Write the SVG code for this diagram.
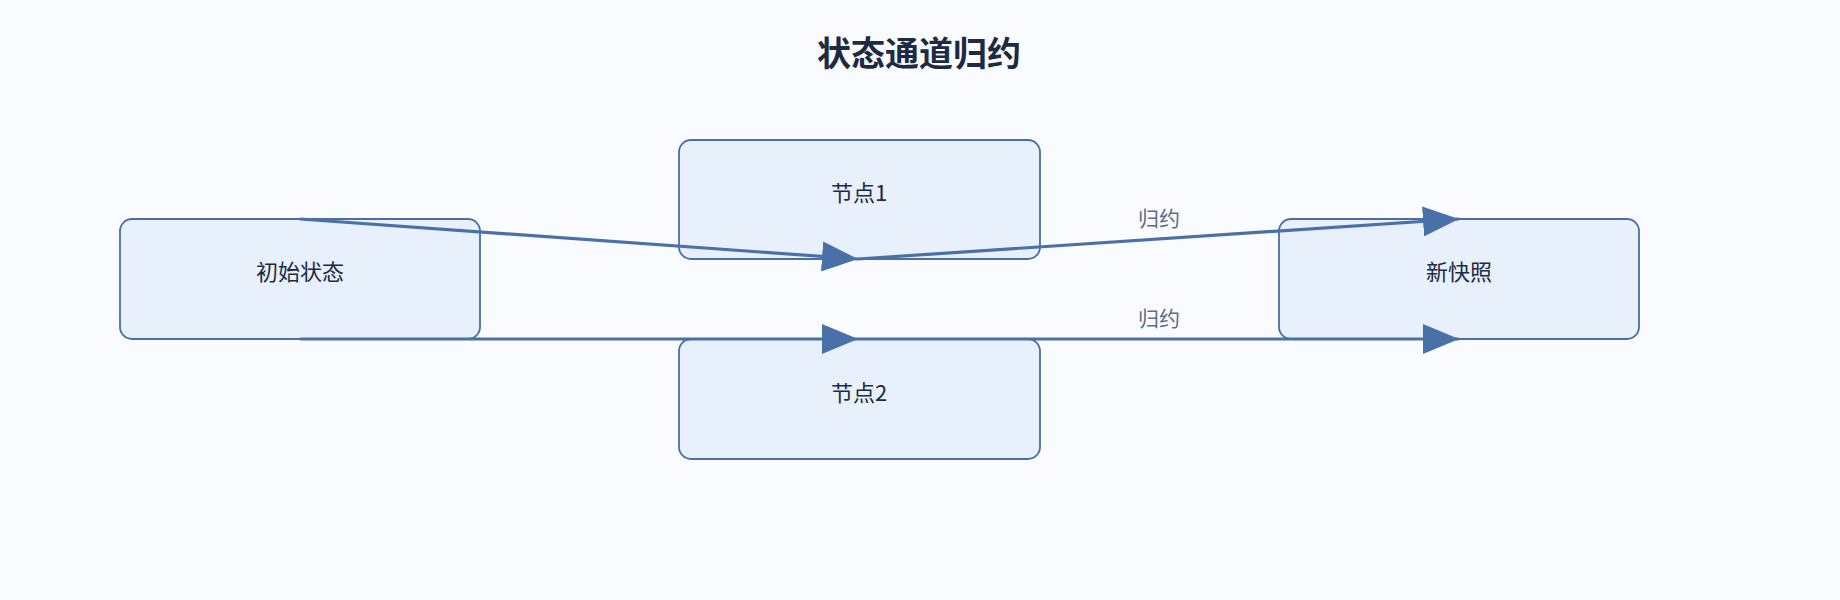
<svg xmlns="http://www.w3.org/2000/svg" width="1840" height="600" viewBox="0 0 1840 600">
<defs>
<style>
.node rect{fill:#e8f0fc;stroke:#4a6ea6;stroke-width:1.8}
.node text{font-family:"Noto Sans CJK SC","Liberation Sans",sans-serif;font-size:22px;fill:#1e2a40;text-anchor:middle;dominant-baseline:central}
.edge{stroke:#4a70a8;stroke-width:3.2;fill:none;marker-end:url(#ah)}
.lbl{font-family:"Noto Sans CJK SC","Liberation Sans",sans-serif;font-size:21px;fill:#5e6b85;text-anchor:middle}
</style>
<marker id="ah" markerUnits="userSpaceOnUse" markerWidth="36" markerHeight="30" viewBox="0 0 12 10" refX="12" refY="5" orient="auto"><path d="M0,0 L12,5 L0,10 Z" fill="#4a70a8"/></marker>
</defs>
<rect width="1840" height="600" fill="#f9fbfe"/>
<text x="919" y="66" font-family="Noto Sans CJK SC,Liberation Sans,sans-serif" font-size="34" font-weight="bold" fill="#1c2a42" text-anchor="middle">状态通道归约</text>
<g id="n-init" class="node"><rect x="120" y="219" width="360" height="120" rx="12"/><text x="300" y="270">初始状态</text></g>
<g id="n-node1" class="node"><rect x="679" y="140" width="361" height="119" rx="12"/><text x="859" y="191">节点1</text></g>
<g id="n-node2" class="node"><rect x="679" y="339" width="361" height="120" rx="12"/><text x="859" y="391">节点2</text></g>
<g id="n-snap" class="node"><rect x="1279" y="219" width="360" height="120" rx="12"/><text x="1459" y="270">新快照</text></g>
<g id="connectors">
<line class="edge" x1="300" y1="219" x2="858" y2="259"/>
<line class="edge" x1="858" y1="259" x2="1459" y2="219"/>
<line class="edge" x1="300" y1="339" x2="858" y2="339"/>
<line class="edge" x1="858" y1="339" x2="1459" y2="339"/>
<text class="lbl" x="1159" y="226">归约</text>
<text class="lbl" x="1159" y="326">归约</text>
</g>
</svg>
